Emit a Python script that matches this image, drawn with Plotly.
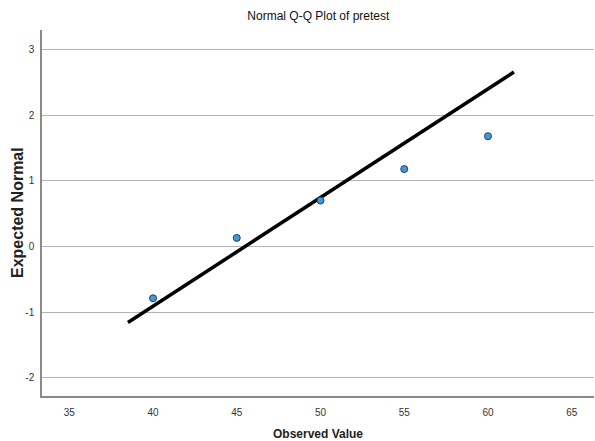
import plotly.graph_objects as go

# Data
observed = [40, 45, 50, 55, 60]
expected = [-0.79, 0.13, 0.70, 1.18, 1.68]
line_x = [38.5, 61.55]
line_y = [-1.16, 2.66]
x_ticks = [35, 40, 45, 50, 55, 60, 65]
y_ticks = [-2, -1, 0, 1, 2, 3]

fig = go.Figure()
fig.add_trace(go.Scatter(
    x=line_x, y=line_y, mode="lines",
    line=dict(color="black", width=3.5), showlegend=False, hoverinfo="skip"))
fig.add_trace(go.Scatter(
    x=observed, y=expected, mode="markers",
    marker=dict(size=7, color="#4298DC", line=dict(color="#1F3F66", width=1)),
    showlegend=False))

fig.update_layout(
    width=595, height=441,
    margin=dict(l=42, r=1, t=30, b=45, autoexpand=False),
    paper_bgcolor="white", plot_bgcolor="white",
    font=dict(family="Liberation Sans Narrow, Arial Narrow, Liberation Sans, Arial", color="#333333"),
    title=dict(text="Normal Q-Q Plot of pretest", x=0.535, xanchor="center",
               y=1 - 16 / 441, yanchor="middle", yref="container",
               font=dict(size=12, color="#111111")),
    xaxis=dict(range=[33.37, 66.33], tickvals=x_ticks, ticktext=[str(v) for v in x_ticks],
               showgrid=False, zeroline=False, showline=True, linecolor="#8a8a8a",
               linewidth=1.5, ticks="", ticklabelstandoff=6, automargin=False,
               tickfont=dict(size=10, color="#333333")),
    yaxis=dict(range=[-2.28, 3.30], tickvals=y_ticks, ticktext=[str(v) for v in y_ticks],
               showgrid=True, gridcolor="#b4b4b4", gridwidth=1, zeroline=False,
               showline=True, linecolor="#8a8a8a", linewidth=1.5, ticks="",
               ticklabelstandoff=4, automargin=False,
               tickfont=dict(size=10, color="#333333")),
    annotations=[
        dict(text="<b>Observed Value</b>", x=0.5, y=0, xref="paper", yref="paper",
             xanchor="center", yanchor="middle", yshift=-38, showarrow=False,
             font=dict(family="Liberation Sans, Arial", size=12, color="#222222")),
        dict(text="<b>Expected Normal</b>", x=0, y=0.5, xref="paper", yref="paper",
             xanchor="center", yanchor="middle", xshift=-25, textangle=-90, showarrow=False,
             font=dict(family="Liberation Sans, Arial", size=16, color="#222222")),
    ],
)

fig.write_html(
    "out.html",
    config={"displayModeBar": False},
    post_script="document.body.style.margin='0';document.body.style.padding='0';"
                "document.body.style.overflow='hidden';",
)
